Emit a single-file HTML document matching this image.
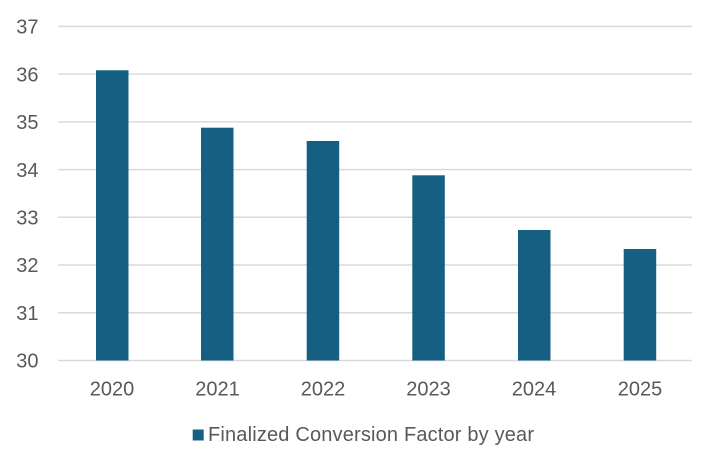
<!DOCTYPE html>
<html><head><meta charset="utf-8"><style>
html,body{margin:0;padding:0;background:#fff;}
svg{display:block;}
text{font-family:"Liberation Sans",Arial,sans-serif;fill:#595959;font-size:20px;}
</style></head><body>
<svg width="720" height="471" viewBox="0 0 720 471" xmlns="http://www.w3.org/2000/svg">
<rect width="720" height="471" fill="#fff"/>
<g stroke="#d9d9d9" stroke-width="1.5">
<line x1="58" y1="26.4" x2="692" y2="26.4"/>
<line x1="58" y1="74.1" x2="692" y2="74.1"/>
<line x1="58" y1="121.9" x2="692" y2="121.9"/>
<line x1="58" y1="169.6" x2="692" y2="169.6"/>
<line x1="58" y1="217.3" x2="692" y2="217.3"/>
<line x1="58" y1="265" x2="692" y2="265"/>
<line x1="58" y1="312.8" x2="692" y2="312.8"/>
<line x1="58" y1="360.5" x2="692" y2="360.5"/>
</g>
<g text-anchor="end">
<text x="38.5" y="33.6">37</text>
<text x="38.5" y="81.3">36</text>
<text x="38.5" y="129.1">35</text>
<text x="38.5" y="176.8">34</text>
<text x="38.5" y="224.5">33</text>
<text x="38.5" y="272.2">32</text>
<text x="38.5" y="320">31</text>
<text x="38.5" y="367.7">30</text>
</g>
<g fill="#156082">
<rect x="96" y="70.3" width="32.5" height="290.2"/>
<rect x="201" y="127.7" width="32.5" height="232.8"/>
<rect x="306.7" y="141" width="32.5" height="219.5"/>
<rect x="412.3" y="175.3" width="32.5" height="185.2"/>
<rect x="518" y="230" width="32.5" height="130.5"/>
<rect x="623.7" y="249" width="32.5" height="111.5"/>
</g>
<g text-anchor="middle">
<text x="112" y="395.5">2020</text>
<text x="217.5" y="395.5">2021</text>
<text x="323" y="395.5">2022</text>
<text x="428.5" y="395.5">2023</text>
<text x="534" y="395.5">2024</text>
<text x="640" y="395.5">2025</text>
</g>
<rect x="192.7" y="429.5" width="11" height="11" fill="#156082"/>
<text x="208" y="441" textLength="326" lengthAdjust="spacing">Finalized Conversion Factor by year</text>
</svg>
</body></html>
